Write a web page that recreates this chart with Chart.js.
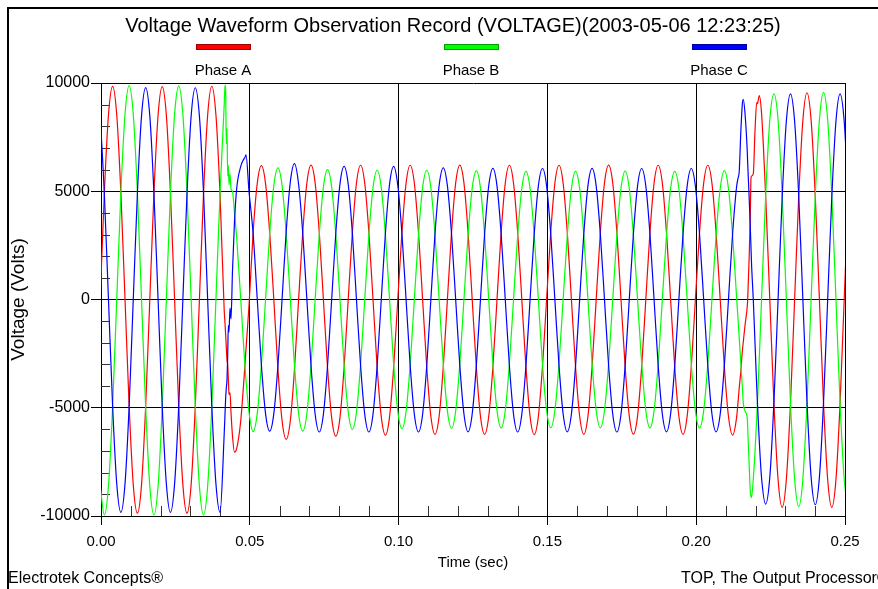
<!DOCTYPE html>
<html>
<head>
<meta charset="utf-8">
<title>Voltage Waveform</title>
<script src="https://cdn.jsdelivr.net/npm/chart.js@4.4.1/dist/chart.umd.min.js"></script>
<style>
  html, body { margin: 0; padding: 0; background: #fff; }
  #wave { display: block; }
</style>
</head>
<body>
<canvas id="wave" width="878" height="589"></canvas>
<script>
const FONT = "'Liberation Sans', Arial, sans-serif";

// sample times in milliseconds (extra samples around the sag start and end)
const timeMs = [
  -0.27, 1.12, 2.51, 3.90, 5.29, 6.68, 8.07, 9.46, 10.84, 12.23, 13.62, 15.01,
  16.40, 17.79, 19.18, 20.57, 21.96, 23.34, 24.73, 26.12, 27.51, 28.90, 30.29, 31.68,
  33.07, 34.46, 35.84, 37.23, 38.62, 40.01, 41.40, 41.67, 41.87, 42.10, 42.34, 42.57, 42.79, 43.01, 43.35, 43.68, 44.18, 44.86, 45.57, 46.96, 47.82, 48.34, 48.72,
  49.73, 51.12, 52.51, 53.90, 55.29, 56.68, 58.07, 59.46, 60.84, 62.23, 63.62, 65.01,
  66.40, 67.79, 69.18, 70.57, 71.96, 73.34, 74.73, 76.12, 77.51, 78.90, 80.29, 81.68,
  83.07, 84.46, 85.84, 87.23, 88.62, 90.01, 91.40, 92.79, 94.18, 95.57, 96.96, 98.34,
  99.73, 101.12, 102.51, 103.90, 105.29, 106.68, 108.07, 109.46, 110.84, 112.23, 113.62, 115.01,
  116.40, 117.79, 119.18, 120.57, 121.96, 123.34, 124.73, 126.12, 127.51, 128.90, 130.29, 131.68,
  133.07, 134.46, 135.84, 137.23, 138.62, 140.01, 141.40, 142.79, 144.18, 145.57, 146.96, 148.34,
  149.73, 151.12, 152.51, 153.90, 155.29, 156.68, 158.07, 159.46, 160.84, 162.23, 163.62, 165.01,
  166.40, 167.79, 169.18, 170.57, 171.96, 173.34, 174.73, 176.12, 177.51, 178.90, 180.29, 181.68,
  183.07, 184.46, 185.84, 187.23, 188.62, 190.01, 191.40, 192.79, 194.18, 195.57, 196.96, 198.34,
  199.73, 201.12, 202.51, 203.90, 205.29, 206.68, 208.07, 209.46, 210.84, 212.23, 213.62, 214.05, 214.45, 215.01, 215.49, 215.83,
  216.40, 217.17, 217.30, 217.79, 218.15, 218.41, 218.58, 219.18, 219.76, 220.33, 220.57, 221.20, 221.96, 223.34, 224.73, 226.12, 227.51, 228.90, 230.29, 231.68,
  233.07, 234.46, 235.84, 237.23, 238.62, 240.01, 241.40, 242.79, 244.18, 245.57, 246.96, 248.34,
  249.73, 251.12,
];

const phaseA = [
  0, 4920, 8520, 9840, 8520, 4920, 0, -4935, -8550, -9870, -8550, -4935,
  0, 4915, 8510, 9830, 8510, 4915, 0, -4935, -8550, -9870, -8550, -4935,
  0, 4920, 8520, 9850, 8520, 4800, -500, -1100, -1600, -2200, -2800, -3000, -3700, -4400, -4300, -5200, -6300, -7050, -6900, -5600, -4100, -3100, -2300,
  -300, 3100, 5370, 6180, 5350, 3090, 0, -3230, -5590, -6460, -5590, -3230,
  0, 3105, 5380, 6210, 5380, 3105, 0, -3155, -5465, -6310, -5465, -3155,
  0, 3100, 5370, 6200, 5370, 3100, 0, -3130, -5420, -6260, -5420, -3130,
  0, 3100, 5370, 6200, 5370, 3100, 0, -3115, -5395, -6230, -5395, -3115,
  0, 3105, 5380, 6210, 5380, 3105, 0, -3115, -5395, -6230, -5395, -3115,
  0, 3100, 5370, 6200, 5370, 3100, 0, -3120, -5405, -6240, -5405, -3120,
  0, 3100, 5370, 6200, 5370, 3100, 0, -3115, -5395, -6230, -5395, -3115,
  0, 3105, 5380, 6210, 5380, 3105, 0, -3110, -5385, -6220, -5385, -3110,
  0, 3100, 5370, 6200, 5370, 3100, 0, -3115, -5395, -6230, -5395, -3115,
  0, 3100, 5370, 6200, 5370, 3100, 0, -3115, -5395, -6260, -5395, -4750, -4100, -3300, -2400, -1950,
  -1200, -300, 0, 1900, 3700, 5600, 5700, 5800, 7800, 9100, 9050, 9420, 8600, 4775, 0, -4800, -8315, -9600, -8315, -4800,
  0, 4775, 8270, 9550, 8270, 4775, 0, -4800, -8315, -9600, -8315, -4800,
  0, 4775,
];

const phaseB = [
  -8615, -9950, -8615, -4975, 0, 4940, 8555, 9880, 8555, 4940, 0, -4975,
  -8615, -9950, -8615, -4975, 0, 4935, 8550, 9870, 8550, 4935, 0, -4975,
  -8615, -9950, -8615, -4975, 0, 4940, 9000, 9900, 9750, 7200, 7900, 5700, 6200, 5300, 5800, 5100, 5000, 4000, 2900, 0, -1900, -3000, -3700,
  -5200, -6100, -5250, -3020, 0, 3040, 5265, 6080, 5265, 3040, 0, -3040,
  -5265, -6080, -5265, -3040, 0, 3000, 5195, 6000, 5195, 3000, 0, -3040,
  -5195, -6000, -5195, -3000, 0, 2985, 5170, 5970, 5170, 2985, 0, -3000,
  -5170, -5970, -5170, -2985, 0, 2985, 5170, 5970, 5170, 2985, 0, -2985,
  -5150, -5950, -5150, -2975, 0, 2970, 5145, 5940, 5145, 2970, 0, -2975,
  -5135, -5930, -5135, -2965, 0, 2960, 5125, 5920, 5125, 2960, 0, -2965,
  -5125, -5920, -5125, -2960, 0, 2960, 5125, 5920, 5125, 2960, 0, -2960,
  -5125, -5920, -5125, -2960, 0, 2965, 5135, 5930, 5135, 2965, 0, -2960,
  -5135, -5930, -5135, -2965, 0, 2960, 5125, 5920, 5125, 2960, 0, -2965,
  -5135, -5930, -5135, -2965, 0, 2960, 5125, 5950, 5125, 2960, 0, -900, -1750, -2975, -4000, -4800,
  -5150, -5500, -5900, -7600, -8800, -9100, -9150, -8300, -7050, -5500, -4785, -2700, 0, 4785, 8290, 9500, 8290, 4785, 0, -4785,
  -8290, -9570, -8290, -4785, 0, 4785, 8290, 9570, 8290, 4785, 0, -4785,
  -8290, -9570,
];

const phaseC = [
  8480, 4895, 0, -4915, -8510, -9830, -8510, -4915, 0, 4895, 8480, 9790,
  8480, 4890, 0, -4915, -8510, -9830, -8510, -4915, 0, 4890, 8470, 9780,
  8470, 4890, 0, -4915, -8510, -9830, -6200, -5300, -4600, -4100, -3700, -2600, -1200, -1500, -400, -900, 1300, 3600, 5100, 6150, 6450, 6550, 6680,
  5000, 3040, 0, -3040, -5270, -6080, -5270, -3050, 0, 3140, 5440, 6280,
  5325, 3075, 0, -3060, -5300, -6120, -5300, -3060, 0, 3075, 5325, 6150,
  5325, 3075, 0, -3060, -5300, -6120, -5300, -3060, 0, 3075, 5325, 6150,
  5265, 3040, 0, -3060, -5300, -6120, -5300, -3060, 0, 3040, 5265, 6080,
  5250, 3030, 0, -3055, -5290, -6110, -5290, -3055, 0, 3030, 5250, 6060,
  5240, 3025, 0, -3060, -5300, -6120, -5300, -3060, 0, 3025, 5240, 6050,
  5250, 3030, 0, -3055, -5290, -6110, -5290, -3055, 0, 3030, 5250, 6060,
  5240, 3025, 0, -3060, -5300, -6120, -5300, -3060, 0, 3025, 5240, 6050,
  5240, 3025, 0, -3055, -5290, -6110, -5290, -3055, 0, 3025, 5240, 6050,
  5240, 3025, 0, -3055, -5290, -6110, -5290, -3055, 0, 3040, 5265, 5600, 5900, 7800, 9000, 9250,
  8600, 6800, 6300, 4750, 3400, 2400, 1700, 0, -2000, -4000, -4750, -6550, -8230, -9450, -8210, -4740, 0, 4750, 8230, 9500,
  8230, 4750, 0, -4740, -8210, -9480, -8210, -4740, 0, 4750, 8230, 9500,
  8230, 4750,
];

const seriesNames = ['Phase A', 'Phase B', 'Phase C'];
const seriesColors = ['#FF0000', '#00FF00', '#0000FF'];
const legendEdge = ['#A00000', '#00A000', '#0000A0'];

const xTicks = [0, 0.05, 0.10, 0.15, 0.20, 0.25];
const xMinorTicks = [0.01, 0.02, 0.03, 0.04, 0.06, 0.07, 0.08, 0.09, 0.11, 0.12, 0.13, 0.14,
  0.16, 0.17, 0.18, 0.19, 0.21, 0.22, 0.23, 0.24];
const yTicks = [-10000, -5000, 0, 5000, 10000];
const yMinorTicks = [-9000, -8000, -7000, -6000, -4000, -3000, -2000, -1000,
  1000, 2000, 3000, 4000, 6000, 7000, 8000, 9000];

const TITLE = 'Voltage Waveform Observation Record (VOLTAGE)(2003-05-06 12:23:25)';
const FOOT_LEFT = 'Electrotek Concepts®';
const FOOT_RIGHT = 'TOP, The Output Processor®';

function toPoints(values) {
  return values.map((v, i) => ({ x: timeMs[i] / 1000, y: v }));
}

// frame, title, legend strip, footers and the small inner tick marks
const decorations = {
  id: 'decorations',
  beforeDatasetsDraw(chart) {
    const { ctx, chartArea: a, scales: { x, y } } = chart;
    ctx.save();
    ctx.strokeStyle = '#333';
    ctx.lineWidth = 1;
    ctx.beginPath();
    xMinorTicks.forEach((v) => {
      const px = Math.round(x.getPixelForValue(v)) + 0.5;
      ctx.moveTo(px, a.bottom);
      ctx.lineTo(px, a.bottom - 10);
    });
    yMinorTicks.forEach((v) => {
      const py = Math.round(y.getPixelForValue(v)) + 0.5;
      ctx.moveTo(a.left, py);
      ctx.lineTo(a.left + 9, py);
    });
    ctx.stroke();
    ctx.restore();
  },
  afterDraw(chart) {
    const { ctx, chartArea: a } = chart;
    ctx.save();
    ctx.fillStyle = '#000';
    ctx.fillRect(7, 7, 880, 2);
    ctx.fillRect(7, 7, 2, 600);

    ctx.textAlign = 'center';
    ctx.textBaseline = 'middle';
    ctx.font = `20px ${FONT}`;
    ctx.fillText(TITLE, 453, 26);

    const w = a.right - a.left;
    ctx.font = `15px ${FONT}`;
    seriesNames.forEach((name, i) => {
      const cx = a.left + w * (2 * i + 1) / 6 - 2;
      ctx.fillStyle = seriesColors[i];
      ctx.fillRect(cx - 26, 45, 53, 4);
      ctx.strokeStyle = legendEdge[i];
      ctx.lineWidth = 1;
      ctx.strokeRect(cx - 26.5, 44.5, 54, 5);
      ctx.fillStyle = '#000';
      ctx.fillText(name, cx, 71);
    });

    ctx.font = `16px ${FONT}`;
    ctx.textAlign = 'left';
    ctx.fillText(FOOT_LEFT, 8, 579);
    ctx.fillText(FOOT_RIGHT, 681, 579);
    ctx.restore();
  },
};

new Chart(document.getElementById('wave'), {
  type: 'line',
  data: {
    datasets: [phaseC, phaseB, phaseA].map((vals, i) => ({
      label: seriesNames[2 - i],
      data: toPoints(vals),
      borderColor: seriesColors[2 - i],
      borderWidth: 1.2,
      pointRadius: 0,
      cubicInterpolationMode: 'monotone',
      fill: false,
    })),
  },
  options: {
    responsive: false,
    animation: false,
    events: [],
    layout: { padding: { left: 0, right: 33, top: 83, bottom: 0 } },
    plugins: { legend: { display: false }, tooltip: { enabled: false } },
    scales: {
      x: {
        type: 'linear',
        min: 0,
        max: 0.25,
        afterBuildTicks: (s) => { s.ticks = xTicks.map((v) => ({ value: v })); },
        afterFit: (s) => { s.height = 73; },
        ticks: {
          color: '#000',
          font: { family: FONT, size: 15 },
          padding: 8,
          maxRotation: 0,
          autoSkip: false,
          callback: (v) => Number(v).toFixed(2),
        },
        grid: { color: '#000', lineWidth: 1, tickLength: 9 },
        border: { color: '#000', width: 1 },
        title: {
          display: true,
          text: 'Time (sec)',
          color: '#000',
          font: { family: FONT, size: 15 },
          padding: { top: 0, bottom: 17 },
        },
      },
      y: {
        min: -10000,
        max: 10000,
        afterBuildTicks: (s) => { s.ticks = yTicks.map((v) => ({ value: v })); },
        afterFit: (s) => { s.width = 101; },
        ticks: {
          color: '#000',
          font: { family: FONT, size: 16 },
          padding: 1,
          callback: (v) => String(v),
        },
        grid: { color: '#000', lineWidth: 1, tickLength: 10 },
        border: { color: '#000', width: 1 },
        title: {
          display: true,
          text: 'Voltage (Volts)',
          color: '#000',
          font: { family: FONT, size: 19 },
          padding: { top: 7, bottom: 0 },
        },
      },
    },
  },
  plugins: [decorations],
});
</script>
</body>
</html>
